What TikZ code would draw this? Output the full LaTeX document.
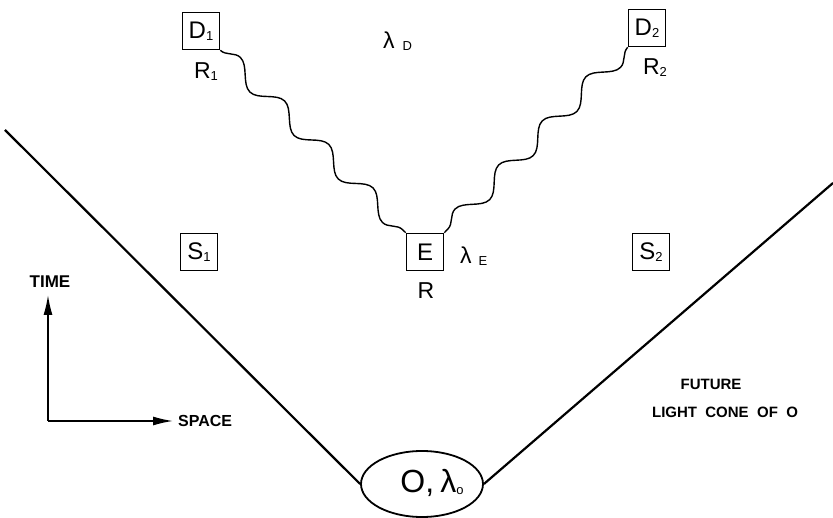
\documentclass[tikz,border=0pt]{standalone}
\usepackage{fontspec}
\setmainfont{Liberation Sans}
\usetikzlibrary{decorations.pathmorphing,arrows.meta,shapes.geometric}
\newcommand{\sbs}[1]{\raisebox{-2pt}{\fontsize{13}{13}\selectfont #1}}
\begin{document}
\begin{tikzpicture}[x=1pt,y=-1pt,
 boxlbl/.style={draw, line width=1.6pt, minimum width=37pt, minimum height=37pt, inner sep=0pt, font=\fontsize{24}{24}\selectfont},
 lbl/.style={font=\fontsize{23}{23}\selectfont, inner sep=0pt},
 caps/.style={font=\fontsize{15}{15}\selectfont\bfseries, inner sep=0pt},
 cone/.style={line width=2.2pt},
 wave/.style={line width=1.4pt, decorate, decoration={snake, segment length=62pt, amplitude=9pt}},
 axis/.style={line width=1.6pt, -{Latex[length=20pt,width=9pt]}},
]
\useasboundingbox (0,0) rectangle (833,518);
% boxes
\node[boxlbl] (d1) at (201,31) {D\sbs{1}};
\node[boxlbl] (d2) at (647,28) {D\sbs{2}};
\node[boxlbl] (e) at (425,252) {E};
\node[boxlbl] (s1) at (199,252) {S\sbs{1}};
\node[boxlbl] (s2) at (651,252) {S\sbs{2}};
% labels
\node[lbl] (r1) at (206,72) {R\sbs{1}};
\node[lbl] (r2) at (655,68) {R\sbs{2}};
\node[lbl] (r) at (426,291) {R};
\node[lbl, anchor=west] (ld) at (383,41) {λ\hspace{8pt}\sbs{D}};
\node[lbl, anchor=west] (le) at (460,256) {λ\hspace{7pt}\sbs{E}};
% waves
\draw[wave] (d1.south east) -- (e.north west);
\draw[wave] (d2.south west) -- (e.north east);
% ellipse
\node[draw, ellipse, line width=1.8pt, minimum width=122pt, minimum height=66pt, inner sep=0pt] (o) at (422,484) {};
\node[font=\fontsize{32}{32}\selectfont, inner sep=0pt] (ot) at (432,483) {O,\hspace{6pt}λ\sbs{o}};
% light cone
\coordinate (cl) at (5,130);
\coordinate (cr) at (833,183);
\draw[cone] (cl) -- (o.west);
\draw[cone] (o.east) -- (cr);
% axes
\coordinate (ax) at (48,421);
\coordinate (at) at (48,295);
\coordinate (as) at (173,421);
\draw[axis] (ax) -- (at);
\draw[axis] (ax) -- (as);
\node[caps, font=\fontsize{17}{17}\selectfont\bfseries] (time) at (50,282) {TIME};
\node[caps, anchor=west, font=\fontsize{16}{16}\selectfont\bfseries] (space) at (178,421) {SPACE};
\node[caps] (fut) at (711,384) {FUTURE};
\node[caps] (lc) at (725,412) {LIGHT\ \ CONE\ \ OF\ \ O};
\end{tikzpicture}
\end{document}
